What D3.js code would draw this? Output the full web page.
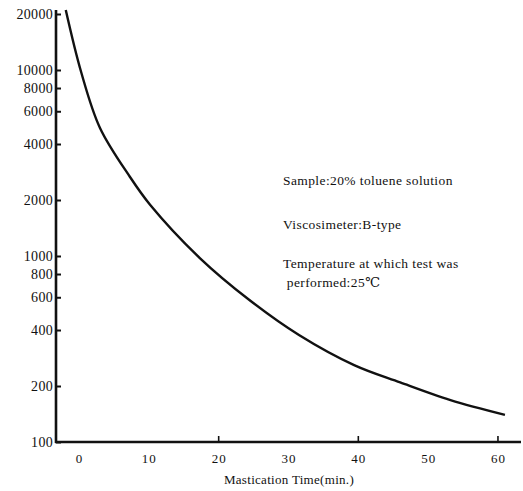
<!DOCTYPE html>
<html>
<head>
<meta charset="utf-8">
<script src="https://cdn.jsdelivr.net/npm/d3@7"></script>
<style>
  body { margin: 0; background: #fff; }
  svg { display: block; }
</style>
</head>
<body>
<svg id="chart" width="523" height="491"></svg>
<script>
// mastication time (min.) vs viscosity
const times = [-1.9, 0.3, 3.0, 7.3, 10.2, 17.3, 24.4, 31.5, 39.4, 46.0, 53.2, 61.0];
const viscosity = [21000, 9750, 4880, 2660, 1880, 975, 580, 376, 259, 209, 168, 140];

const yTicks = [100, 200, 400, 600, 800, 1000, 2000, 4000, 6000, 8000, 10000, 20000];
const xLabels = [0, 10, 20, 30, 40, 50, 60];
const xTickMarks = [20, 40, 60];
const notes = [
  "Sample:20% toluene solution",
  "Viscosimeter:B-type",
  "Temperature at which test was",
  " performed:25\u2103"
];

const FONT = "'Liberation Serif', 'DejaVu Serif', 'Times New Roman', Times, serif";

const svg = d3.select("#chart");
const plotLeft = 56, plotRight = 521, plotTop = 10, plotBottom = 442;

const x = d3.scaleLinear().domain([-3.3, 63.3]).range([plotLeft, plotRight]);
const y = d3.scaleLog().domain([100, 20000]).range([plotBottom, 14]);

// y axis, ticks point inward
const yAxis = d3.axisLeft(y)
  .tickValues(yTicks)
  .tickFormat(d3.format("d"))
  .tickSizeInner(-5)
  .tickSizeOuter(0)
  .tickPadding(3);

const gy = svg.append("g").attr("transform", `translate(${plotLeft},0)`).call(yAxis);
gy.select(".domain").remove();
gy.selectAll(".tick line").attr("stroke", "#111").attr("stroke-width", 2);
gy.selectAll(".tick text")
  .style("font-family", FONT)
  .style("font-size", "14px")
  .style("letter-spacing", "0.3px")
  .attr("fill", "#111");

svg.append("line")
  .attr("x1", plotLeft).attr("x2", plotLeft)
  .attr("y1", plotTop).attr("y2", plotBottom + 1)
  .attr("stroke", "#111").attr("stroke-width", 2.6);

// x axis: labels every 10, small marks only at 20/40/60
const xAxis = d3.axisBottom(x)
  .tickValues(xLabels)
  .tickSize(0)
  .tickPadding(12);

const gx = svg.append("g").attr("transform", `translate(0,${plotBottom})`).call(xAxis);
gx.select(".domain").remove();
gx.selectAll(".tick text")
  .style("font-family", FONT)
  .style("font-size", "13px")
  .style("letter-spacing", "1px")
  .attr("fill", "#111");

svg.append("line")
  .attr("x1", plotLeft - 1).attr("x2", plotRight)
  .attr("y1", plotBottom).attr("y2", plotBottom)
  .attr("stroke", "#111").attr("stroke-width", 2.4);

svg.selectAll(".xmark")
  .data(xTickMarks)
  .enter()
  .append("line")
  .attr("class", "xmark")
  .attr("x1", (d) => x(d)).attr("x2", (d) => x(d))
  .attr("y1", plotBottom).attr("y2", plotBottom - 6)
  .attr("stroke", "#111").attr("stroke-width", 1.6);

svg.append("text")
  .attr("x", 289).attr("y", 484)
  .attr("text-anchor", "middle")
  .style("font-family", FONT)
  .style("font-size", "13px")
  .style("letter-spacing", "0.3px")
  .attr("fill", "#111")
  .text("Mastication Time(min.)");

// the curve
const line = d3.line()
  .x((d) => x(d[0]))
  .y((d) => y(d[1]))
  .curve(d3.curveCatmullRom.alpha(0.5));

svg.append("path")
  .datum(d3.zip(times, viscosity))
  .attr("d", line)
  .attr("fill", "none")
  .attr("stroke", "#111")
  .attr("stroke-width", 2.4)
  .attr("stroke-linejoin", "round");

// notes on the right
const noteY = [185, 229, 268, 287];
svg.selectAll(".note")
  .data(notes)
  .enter()
  .append("text")
  .attr("class", "note")
  .attr("x", 283)
  .attr("y", (d, i) => noteY[i])
  .style("font-family", FONT)
  .style("font-size", "13.5px")
  .style("letter-spacing", "0.4px")
  .style("white-space", "pre")
  .attr("fill", "#111")
  .text((d) => d);
</script>
</body>
</html>
